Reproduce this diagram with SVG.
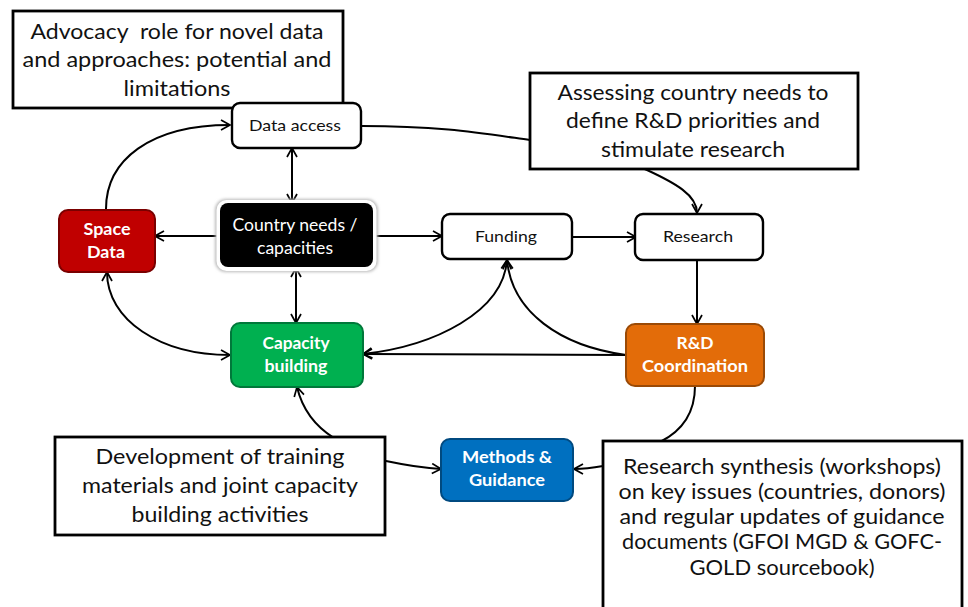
<svg xmlns="http://www.w3.org/2000/svg" width="968" height="607" viewBox="0 0 968 607">
<defs>
<marker id="arr" viewBox="0 0 12 12" refX="10.5" refY="6" markerWidth="12" markerHeight="12" markerUnits="userSpaceOnUse" orient="auto-start-reverse">
<path d="M1.5,1 L10.5,6 L1.5,11" fill="none" stroke="#000" stroke-width="1.7" stroke-linejoin="miter"/>
</marker>
<filter id="glow" x="-10%" y="-15%" width="120%" height="130%">
<feGaussianBlur stdDeviation="1.5"/>
</filter>
</defs>
<style>
.conn{fill:none;stroke:#000;stroke-width:2}
.note{fill:#fff;stroke:#000;stroke-width:2.8}
.plain{fill:#fff;stroke:#000;stroke-width:2.4}
.t{font-family:Lato,"Open Sans","Liberation Sans",sans-serif;text-anchor:middle;white-space:pre}
.nt{font-size:21px;fill:#111}
.pt{font-size:16px;fill:#111}
.bt{font-size:17px;font-weight:bold;fill:#fff}
.wt{font-size:16.5px;fill:#fff}
</style>
<rect width="968" height="607" fill="#fff"/>

<g id="connectors">
<path class="conn" d="M106,209 C106,160 150,125 230,125" marker-end="url(#arr)"/>
<path class="conn" d="M107,272 C107,320 160,355 230,355" marker-start="url(#arr)" marker-end="url(#arr)"/>
<path class="conn" d="M292,148 L292,203" marker-start="url(#arr)" marker-end="url(#arr)"/>
<path class="conn" d="M296,268 L296,323" marker-start="url(#arr)" marker-end="url(#arr)"/>
<path class="conn" d="M219,236 L155,236" marker-end="url(#arr)"/>
<path class="conn" d="M374,236 L442,236" marker-end="url(#arr)"/>
<path class="conn" d="M572,237 L636,237" marker-end="url(#arr)"/>
<path class="conn" d="M697,260 L697,324" marker-end="url(#arr)"/>
<path class="conn" d="M362,126 C440,126 480,133 530,140 C580,147 620,158 647,170 C675,183 697,195 697,213" marker-end="url(#arr)"/>
<path class="conn" d="M363,354 C435,346 503,312 507,260" marker-start="url(#arr)" marker-end="url(#arr)"/>
<path class="conn" d="M626,355 C560,346 512,312 507,260" marker-end="url(#arr)"/>
<path class="conn" d="M626,355 L363,354" marker-end="url(#arr)"/>
<path class="conn" d="M297,387 C303,412 318,428 334,438 C352,450 370,458 386,461 C405,465 420,468 441,469" marker-start="url(#arr)" marker-end="url(#arr)"/>
<path class="conn" d="M695,386 C695,415 680,432 660,442 C640,452 620,462 603,466 C592,468 585,469 574,469" marker-end="url(#arr)"/>
</g>

<g id="advocacy">
<rect class="note" x="13" y="11" width="330" height="97"/>
<text class="t nt" x="177" y="39" textLength="293" lengthAdjust="spacingAndGlyphs" xml:space="preserve">Advocacy  role for novel data</text>
<text class="t nt" x="177" y="67" textLength="309" lengthAdjust="spacingAndGlyphs">and approaches: potential and</text>
<text class="t nt" x="177" y="96" textLength="107" lengthAdjust="spacingAndGlyphs">limitations</text>
</g>

<g id="assessing">
<rect class="note" x="530" y="73" width="328" height="96"/>
<text class="t nt" x="693" y="100" textLength="271" lengthAdjust="spacingAndGlyphs">Assessing country needs to</text>
<text class="t nt" x="693" y="128" textLength="254" lengthAdjust="spacingAndGlyphs">define R&amp;D priorities and</text>
<text class="t nt" x="693" y="157" textLength="184" lengthAdjust="spacingAndGlyphs">stimulate research</text>
</g>

<g id="development">
<rect class="note" x="55" y="437" width="330" height="98"/>
<text class="t nt" x="220" y="464" textLength="249" lengthAdjust="spacingAndGlyphs">Development of training</text>
<text class="t nt" x="220" y="493" textLength="276" lengthAdjust="spacingAndGlyphs">materials and joint capacity</text>
<text class="t nt" x="220" y="522" textLength="177" lengthAdjust="spacingAndGlyphs">building activities</text>
</g>

<g id="synthesis">
<rect class="note" x="603" y="441" width="359" height="180"/>
<text class="t nt" x="782" y="474" textLength="318" lengthAdjust="spacingAndGlyphs">Research synthesis (workshops)</text>
<text class="t nt" x="782" y="499" textLength="327" lengthAdjust="spacingAndGlyphs">on key issues (countries, donors)</text>
<text class="t nt" x="782" y="524" textLength="325" lengthAdjust="spacingAndGlyphs">and regular updates of guidance</text>
<text class="t nt" x="782" y="549" textLength="320" lengthAdjust="spacingAndGlyphs">documents (GFOI MGD &amp; GOFC-</text>
<text class="t nt" x="782" y="575" textLength="185" lengthAdjust="spacingAndGlyphs">GOLD sourcebook)</text>
</g>

<g id="data-access">
<rect class="plain" x="232" y="103" width="129" height="45" rx="8"/>
<text class="t pt" x="295" y="131" textLength="92" lengthAdjust="spacingAndGlyphs">Data access</text>
</g>

<g id="country-needs">
<rect x="215" y="199" width="163" height="73" rx="11" fill="#bbb" filter="url(#glow)"/>
<rect x="216.5" y="200" width="160" height="71" rx="10" fill="#fff"/>
<rect x="220" y="203" width="153" height="64" rx="8" fill="#000"/>
<text class="t wt" x="295" y="231" textLength="125" lengthAdjust="spacingAndGlyphs">Country needs /</text>
<text class="t wt" x="295" y="254" textLength="76" lengthAdjust="spacingAndGlyphs">capacities</text>
</g>

<g id="space-data">
<rect x="59" y="210" width="96" height="62" rx="9" fill="#C00000" stroke="#7A0000" stroke-width="2"/>
<text class="t bt" x="107" y="235" textLength="47" lengthAdjust="spacingAndGlyphs">Space</text>
<text class="t bt" x="106" y="258" textLength="38" lengthAdjust="spacingAndGlyphs">Data</text>
</g>

<g id="capacity-building">
<rect x="231" y="323" width="132" height="64" rx="9" fill="#00B050" stroke="#00783A" stroke-width="2"/>
<text class="t bt" x="296" y="349" textLength="67" lengthAdjust="spacingAndGlyphs">Capacity</text>
<text class="t bt" x="296" y="372" textLength="63" lengthAdjust="spacingAndGlyphs">building</text>
</g>

<g id="funding">
<rect class="plain" x="442" y="214" width="130" height="45" rx="8"/>
<text class="t pt" x="506" y="242" textLength="62" lengthAdjust="spacingAndGlyphs">Funding</text>
</g>

<g id="research">
<rect class="plain" x="635" y="214" width="128" height="46" rx="8"/>
<text class="t pt" x="698" y="242" textLength="70" lengthAdjust="spacingAndGlyphs">Research</text>
</g>

<g id="rd-coordination">
<rect x="626" y="324" width="138" height="62" rx="9" fill="#E36C09" stroke="#9A4A06" stroke-width="2"/>
<text class="t bt" x="695" y="349" textLength="37" lengthAdjust="spacingAndGlyphs">R&amp;D</text>
<text class="t bt" x="695" y="372" textLength="106" lengthAdjust="spacingAndGlyphs">Coordination</text>
</g>

<g id="methods-guidance">
<rect x="441" y="439" width="132" height="62" rx="9" fill="#0070C0" stroke="#004A80" stroke-width="2"/>
<text class="t bt" x="507" y="463" textLength="90" lengthAdjust="spacingAndGlyphs">Methods &amp;</text>
<text class="t bt" x="507" y="486" textLength="76" lengthAdjust="spacingAndGlyphs">Guidance</text>
</g>
</svg>
